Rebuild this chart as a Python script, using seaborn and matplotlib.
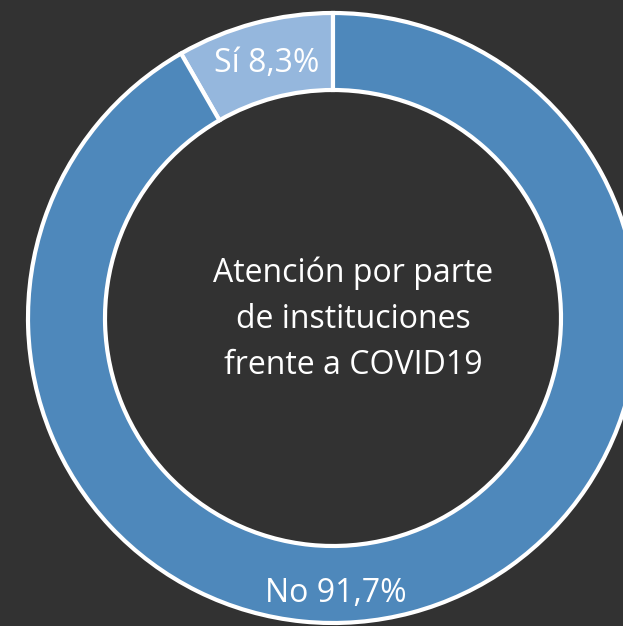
import matplotlib.pyplot as plt
import seaborn as sns

# Data
labels = ["Sí", "No"]
values = [8.3, 91.7]
colors = ["#95b7dd", "#4e88bb"]
center_lines = ["Atención por parte", "de instituciones", "frente a COVID19"]

sns.set_style("dark")
plt.rcParams['font.family'] = ['Open Sans', 'DejaVu Sans']

W, H = 623, 626
fig = plt.figure(figsize=(W / 100, H / 100), dpi=100, facecolor="#323232")
ax = fig.add_axes([0, 0, 1, 1])
ax.set_facecolor("#323232")

cx, cy = 333, H - 318
r_out = 305
width = 77

wedges, _ = ax.pie(
    values,
    colors=colors,
    startangle=90,
    counterclock=True,
    radius=r_out,
    center=(cx, cy),
    wedgeprops=dict(width=width, edgecolor="white", linewidth=3),
)
ax.set_xlim(0, W)
ax.set_ylim(0, H)
ax.set_aspect("equal")
ax.axis("off")

def fmt(v):
    return f"{v:.1f}".replace(".", ",") + "%"

# Labels
ax.text(267, H - 72, f"{labels[0]} {fmt(values[0])}", color="white",
        fontsize=23, ha="center", va="baseline")
ax.text(336, H - 602, f"{labels[1]} {fmt(values[1])}", color="white",
        fontsize=23, ha="center", va="baseline")

# Center text
for i, line in enumerate(center_lines):
    ax.text(353, H - (282 + 46 * i), line, color="white", fontsize=23,
            ha="center", va="baseline")

fig.savefig("out.png", dpi=100, facecolor=fig.get_facecolor())
